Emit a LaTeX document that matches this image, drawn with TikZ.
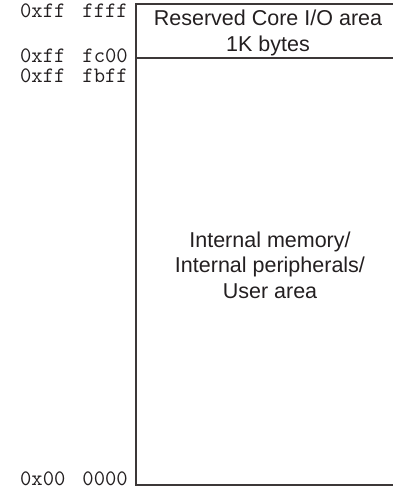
\documentclass[tikz,border=0pt]{standalone}
\usepackage{fontspec}
\setmainfont{Liberation Sans}
\definecolor{ink}{HTML}{231F20}
\definecolor{rule}{HTML}{3C3838}
\begin{document}
\begin{tikzpicture}[x=1pt,y=-1pt,
  addr/.style={anchor=base east,inner sep=0pt,text=ink,font=\fontsize{22}{24}\ttfamily},
  lbl/.style={align=center,inner sep=0pt,text=ink,font=\fontsize{21.5}{25.5}\selectfont},
  edge/.style={draw=rule,line width=1.1pt}]
\useasboundingbox (0,0) rectangle (392,490);
% box outline (right edge runs off the picture)
\coordinate (tl) at (136,4);
\coordinate (tr) at (392.5,4);
\coordinate (ml) at (136,58);
\coordinate (mr) at (392.5,58);
\coordinate (bl) at (136,485);
\coordinate (br) at (392.5,485);
\draw[edge] (tr) -- (tl) -- (bl) -- (br);
\draw[edge] (ml) -- (mr);
% address labels
\node[addr] (a1) at (128,17) {0xff\hspace{17pt}ffff};
\node[addr] (a2) at (128,62) {0xff\hspace{17pt}fc00};
\node[addr] (a3) at (128,82) {0xff\hspace{17pt}fbff};
\node[addr] (a4) at (128,485) {0x00\hspace{17pt}0000};
% region labels
\node[lbl] (r1) at (268,33) {Reserved Core I/O area\\1K bytes};
\node[lbl] (r2) at (270,265) {Internal memory/\\Internal peripherals/\\User area};
\end{tikzpicture}
\end{document}
